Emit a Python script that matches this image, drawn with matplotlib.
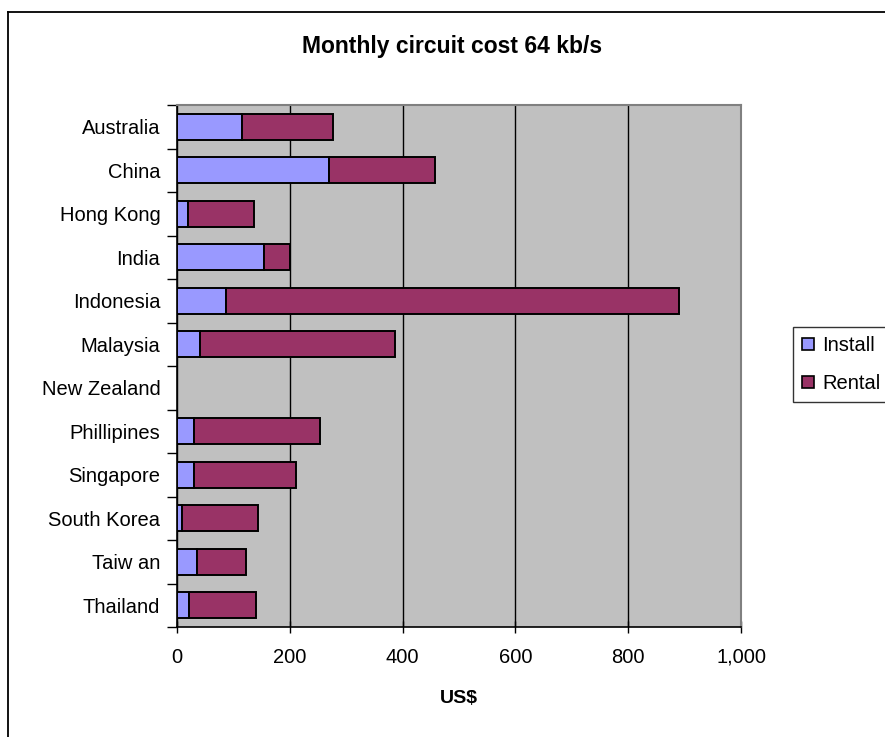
import matplotlib
matplotlib.use("Agg")
import matplotlib.pyplot as plt
from matplotlib.patches import Patch
from matplotlib.lines import Line2D
import numpy as np

plt.rcParams['font.family'] = ['Liberation Sans', 'DejaVu Sans']

countries = ["Australia", "China", "Hong Kong", "India", "Indonesia", "Malaysia",
             "New Zealand", "Phillipines", "Singapore", "South Korea", "Taiw an", "Thailand"]
install = [115, 270, 19, 154, 87, 41, 0, 30, 30, 9, 36, 22]
rental = [162, 188, 117, 46, 803, 346, 0, 224, 181, 135, 86, 118]
x_ticks = [0, 200, 400, 600, 800, 1000]
x_tick_labels = ["0", "200", "400", "600", "800", "1,000"]

W, H = 885, 737
fig = plt.figure(figsize=(W / 100, H / 100), dpi=100)
fig.patch.set_facecolor("white")

# chart-area border (left and top edges visible)
fig.add_artist(Line2D([7.5 / W, 7.5 / W], [0, 1 - 12 / H], transform=fig.transFigure,
                      color="black", lw=1.3))
fig.add_artist(Line2D([7.5 / W, 1.0], [1 - 12 / H, 1 - 12 / H], transform=fig.transFigure,
                      color="black", lw=1.3))

ax = fig.add_axes([177 / W, 1 - 627 / H, (741 - 177) / W, (627 - 105) / H])
ax.set_facecolor("#C0C0C0")

y = np.arange(len(countries))
ax.barh(y, install, height=0.6, color="#9999FF", edgecolor="black", linewidth=1.4,
        label="Install", zorder=3)
ax.barh(y, rental, left=install, height=0.6, color="#993366", edgecolor="black",
        linewidth=1.4, label="Rental", zorder=3)

ax.set_xlim(0, 1000)
ax.set_ylim(len(countries) - 0.5, -0.5)

ax.set_xticks(x_ticks)
ax.set_xticklabels(x_tick_labels, fontsize=14.5)
ax.tick_params(axis="x", direction="inout", length=8, width=1, pad=11)

ax.set_yticks(y)
ax.set_yticklabels(countries, fontsize=14.5)
ax.set_yticks(np.arange(len(countries) + 1) - 0.5, minor=True)
ax.tick_params(axis="y", which="major", length=0, pad=12)
ax.tick_params(axis="y", which="minor", direction="out", length=7, width=1)

ax.grid(axis="x", color="black", linewidth=1, zorder=1)
ax.set_axisbelow(True)

for side in ("left", "bottom"):
    ax.spines[side].set_color("black")
    ax.spines[side].set_linewidth(1.2)
for side in ("top", "right"):
    ax.spines[side].set_color("#808080")
    ax.spines[side].set_linewidth(1.5)

ax.set_xlabel("US$", fontsize=14, fontweight="bold", labelpad=17)

fig.text(452 / W, 1 - 47 / H, "Monthly circuit cost 64 kb/s", ha="center", va="center",
         fontsize=16.5, fontweight="bold")

handles = [Patch(facecolor="#9999FF", edgecolor="black", linewidth=1.2, label="Install"),
           Patch(facecolor="#993366", edgecolor="black", linewidth=1.2, label="Rental")]
leg = fig.legend(handles=handles, loc="upper left", bbox_to_anchor=(793 / W, 1 - 327 / H),
                 fontsize=14.5, frameon=True, fancybox=False, handlelength=0.6,
                 handleheight=0.6, handletextpad=0.4, labelspacing=0.95, borderpad=0.45,
                 borderaxespad=0)
leg.get_frame().set_edgecolor("black")
leg.get_frame().set_linewidth(1.0)

fig.savefig("out.png", dpi=100)
